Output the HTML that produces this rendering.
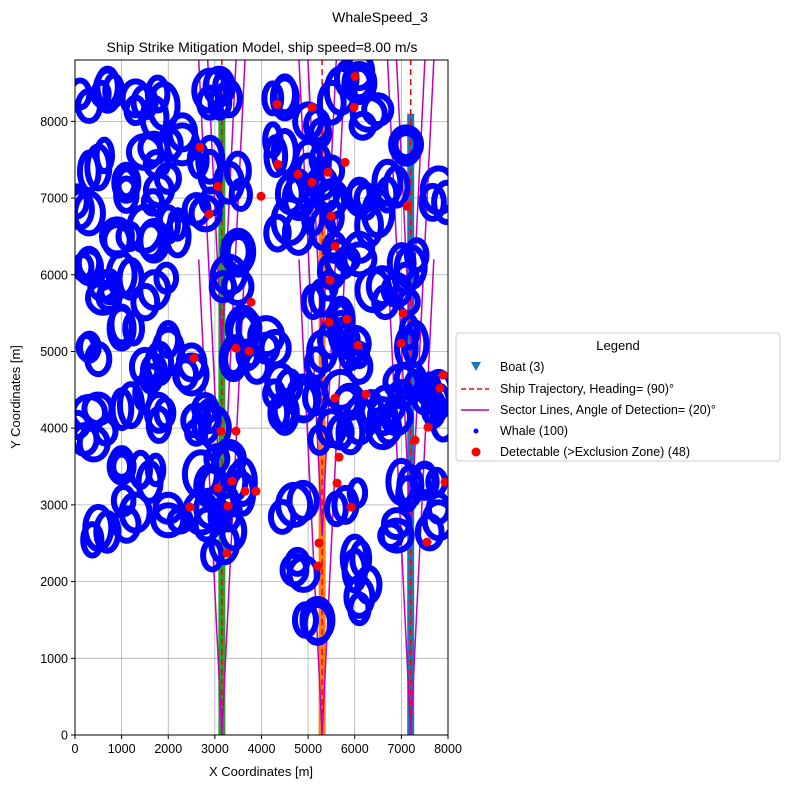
<!DOCTYPE html>
<html><head><meta charset="utf-8"><style>
body{margin:0;background:#fff;width:790px;height:788px;overflow:hidden;font-family:"Liberation Sans",sans-serif}
</style></head><body>
<svg id="chart" width="790" height="788" xmlns="http://www.w3.org/2000/svg" font-family="Liberation Sans, sans-serif">
<text x="380" y="22" font-size="14" text-anchor="middle">WhaleSpeed_3</text>
<text x="262" y="52" font-size="14" text-anchor="middle">Ship Strike Mitigation Model, ship speed=8.00 m/s</text>
<defs><clipPath id="clip"><rect x="75" y="60" width="373" height="675"/></clipPath></defs>
<g id="grid"></g>
<g id="marks" clip-path="url(#clip)"></g>
<rect x="75" y="60" width="373" height="675" fill="none" stroke="#000" stroke-width="1"/>
<g id="axes"></g>
<text x="261" y="776" font-size="13" text-anchor="middle">X Coordinates [m]</text>
<text x="20" y="397" font-size="13" text-anchor="middle" transform="rotate(-90 20 397)">Y Coordinates [m]</text>
<g>
<rect x="456" y="333" width="324" height="128" rx="3" fill="#fff" stroke="#ccc"/>
<text x="618" y="350" font-size="13" text-anchor="middle">Legend</text>
<path d="M471,362 L481,362 L476,371 Z" fill="#1f77b4"/>
<text x="500" y="371" font-size="12.5">Boat (3)</text>
<line x1="461" y1="389" x2="489" y2="389" stroke="red" stroke-width="1.5" stroke-dasharray="5,3"/>
<text x="500" y="393" font-size="12.5">Ship Trajectory, Heading= (90)°</text>
<line x1="461" y1="410" x2="489" y2="410" stroke="#bf00bf" stroke-width="1.5"/>
<text x="500" y="414" font-size="12.5">Sector Lines, Angle of Detection= (20)°</text>
<circle cx="476" cy="431" r="2.5" fill="blue"/>
<text x="500" y="435" font-size="12.5">Whale (100)</text>
<circle cx="476" cy="452" r="4.5" fill="red"/>
<text x="500" y="456" font-size="12.5">Detectable (&gt;Exclusion Zone) (48)</text>
</g>
</svg>
<script>
const xTicks=[0,1000,2000,3000,4000,5000,6000,7000,8000];
const yTicks=[0,1000,2000,3000,4000,5000,6000,7000,8000];
const boatX=[3150,5300,7200];
const boatTop=[8050,8050,8100];
const boatColors=['#2ca02c','#ff7f0e','#1f77b4'];
const sectorStarts=[0,2600,5000];
const whaleX=[300,700,1300,1900,2300,1500,500,1100,1800,300,900,1500,2200,300,1000,1700,600,2900,3300,2900,3300,2800,3500,3300,500,1000,1500,2000,2500,300,1200,1800,2600,3000,3300,2700,1600,1000,500,1300,2000,2700,3300,3600,3200,400,3600,4100,3900,4500,5000,5700,6100,6300,4500,5000,5300,4800,5500,4600,5300,6100,6700,5700,6100,6400,5300,5700,5300,6000,4900,5700,6100,4500,5500,6100,6600,7000,7300,7800,6900,7200,7100,7800,7900,7500,7000,7800,6900,4700,5800,6000,6100,4900,5200,6700,7500,3400,4400,6500];
const whaleY=[8200,8400,8300,8200,7700,7600,7400,7200,7100,6800,6500,6600,6500,6100,6000,5800,5700,8400,8300,7500,7200,6800,6300,6000,4900,5300,4800,5000,4700,4200,4300,4200,4100,4000,3600,3400,3300,3500,2700,2900,2800,2900,2900,3300,2500,3800,5300,5200,4800,8300,8000,8400,8500,8100,7600,7500,7200,7000,7000,6700,6600,7000,7200,6200,6200,5800,5700,5400,5000,5100,4400,4500,4800,4200,4000,4100,4000,4600,5100,4500,5800,6100,7700,7100,4100,3300,3300,2800,2600,3000,3000,2300,1800,2100,1500,4300,4400,4900,4600,6800];
const detX=[6006,4333,5084,5985,2681,4354,5792,4783,5427,5084,3067,3990,7121,2874,5491,5577,5470,3775,7036,5448,5834,2553,3453,3732,6070,6993,5577,7293,7572,7829,6242,3132,3453,5663,3067,3368,3647,3882,2467,3282,5620,5920,3260,5234,5212,7550,7937,7894];
const detY=[8587,8222,8183,8183,7662,7440,7466,7310,7336,7206,7153,7023,6893,6789,6763,6372,5929,5642,5499,5381,5420,4912,5043,5004,5082,5108,4391,3844,4013,4521,4443,3961,3961,3622,3218,3310,3179,3179,2971,2984,3284,2971,2371,2502,2202,2515,3297,4691];
const sx=v=>75+v/8000*373, sy=v=>735-v/8800*675;
const NS='http://www.w3.org/2000/svg';
function mk(t,a,p){const e=document.createElementNS(NS,t);for(const k in a)e.setAttribute(k,a[k]);p.appendChild(e);return e;}
const grid=document.getElementById('grid'),axes=document.getElementById('axes'),marks=document.getElementById('marks');
xTicks.forEach(v=>{
 const g=mk('line',{x1:sx(v),x2:sx(v),y1:60,y2:735,stroke:'#b0b0b0','stroke-width':0.8},grid);
 
 
 const t=mk('line',{x1:sx(v),x2:sx(v),y1:735,y2:739,stroke:'#000'},axes);
 
 
 const l=mk('text',{x:sx(v),y:753,'font-size':12.5,'text-anchor':'middle'},axes);l.textContent=v;
 
 
});
yTicks.forEach(v=>{
 const g=mk('line',{x1:75,x2:448,y1:sy(v),y2:sy(v),stroke:'#b0b0b0','stroke-width':0.8},grid);
 
 
 const t=mk('line',{x1:71,x2:75,y1:sy(v),y2:sy(v),stroke:'#000'},axes);
 
 
 const l=mk('text',{x:68,y:sy(v)+4.5,'font-size':12.5,'text-anchor':'end'},axes);l.textContent=v;
 
 
});
boatX.forEach((bx,i)=>{
 const b=mk('line',{x1:sx(bx),x2:sx(bx),y1:sy(0),y2:sy(boatTop[i]),stroke:boatColors[i],'stroke-width':7},marks);
 
 
 const d=mk('line',{x1:sx(bx),x2:sx(bx),y1:sy(0),y2:sy(8800),stroke:'red','stroke-width':1.5,'stroke-dasharray':'6,4'},marks);
 
 
 sectorStarts.forEach(s=>{[-1,1].forEach(sg=>{
  const L=6200;
  const m=mk('line',{x1:sx(bx),y1:sy(s),x2:sx(bx+sg*L*0.08),y2:sy(s+L),stroke:'#bf00bf','stroke-width':1.5},marks);
  
  
 });});
});
whaleX.forEach((wx,i)=>{
 const g=mk('g',{},marks);
 
 
 const rx=11+(i*7)%6, ry=15+(i*5)%8;
 const cx=sx(wx), cy=sy(whaleY[i]);
 mk('ellipse',{cx:cx,cy:cy,rx:rx,ry:ry,fill:'none',stroke:'blue','stroke-width':6},g);
 mk('ellipse',{cx:cx+((i%3)-1)*9,cy:cy+((i%4)-1.5)*8,rx:rx*0.85,ry:ry*0.9,fill:'none',stroke:'blue','stroke-width':6},g);
 mk('ellipse',{cx:cx-((i%5)-2)*6,cy:cy+((i%3)-1)*12,rx:rx*0.7,ry:ry*0.75,fill:'none',stroke:'blue','stroke-width':6},g);
});
detX.forEach((dx,i)=>{
 const c=mk('circle',{cx:sx(dx),cy:sy(detY[i]),r:4.5,fill:'red'},marks);
 
 
});
</script>
</body></html>
